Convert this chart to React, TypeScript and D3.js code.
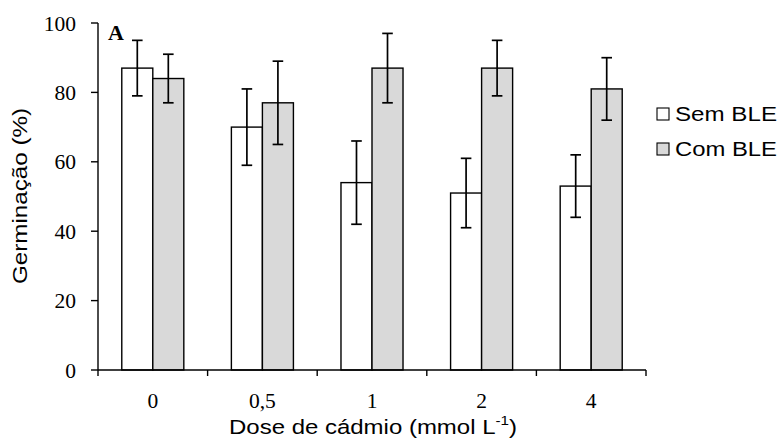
import React from "react";
import * as d3 from "d3";

const categories = ["0", "0,5", "1", "2", "4"];
const seriesNames = ["Sem BLE", "Com BLE"];
const semBLE = [87, 70, 54, 51, 53];
const semBLEErr = [8, 11, 12, 10, 9];
const comBLE = [84, 77, 87, 87, 81];
const comBLEErr = [7, 12, 10, 8, 9];
const yTicks = [0, 20, 40, 60, 80, 100];

const W = 779;
const H = 446;
const left = 98;
const right = 646;
const top = 23;
const bottom = 370;
const fills = ["#ffffff", "#d9d9d9"];

export default function App() {
  const y = d3.scaleLinear().domain([0, 100]).range([bottom, top]);
  const x = d3
    .scaleBand<string>()
    .domain(categories)
    .range([left, right])
    .paddingInner(0.434)
    .paddingOuter(0.217);
  const inner = d3
    .scaleBand<string>()
    .domain(seriesNames)
    .range([0, x.bandwidth()]);
  const series = [
    { name: seriesNames[0], values: semBLE, errs: semBLEErr, fill: fills[0] },
    { name: seriesNames[1], values: comBLE, errs: comBLEErr, fill: fills[1] },
  ];
  const step = x.step();
  const boundaries = d3.range(categories.length + 1).map((i) => left + i * step);
  const serif = "'Liberation Serif', 'Times New Roman', serif";
  const sans = "'Liberation Sans', Arial, sans-serif";

  return (
    <svg
      width={W}
      height={H}
      style={{ position: "absolute", left: 0, top: 0, background: "#fff" }}
    >
      {series.map((s) =>
        categories.map((c, i) => {
          const bx = (x(c) ?? 0) + (inner(s.name) ?? 0);
          const bw = inner.bandwidth();
          return (
            <rect
              key={s.name + c}
              x={bx}
              y={y(s.values[i])}
              width={bw}
              height={y(0) - y(s.values[i])}
              fill={s.fill}
              stroke="#000"
              strokeWidth={1.4}
            />
          );
        })
      )}
      {series.map((s) =>
        categories.map((c, i) => {
          const cx = (x(c) ?? 0) + (inner(s.name) ?? 0) + inner.bandwidth() / 2;
          const hi = y(s.values[i] + s.errs[i]);
          const lo = y(s.values[i] - s.errs[i]);
          return (
            <g key={"e" + s.name + c} stroke="#000" strokeWidth={1.7}>
              <line x1={cx} x2={cx} y1={hi} y2={lo} />
              <line x1={cx - 5.3} x2={cx + 5.3} y1={hi} y2={hi} />
              <line x1={cx - 5.3} x2={cx + 5.3} y1={lo} y2={lo} />
            </g>
          );
        })
      )}
      <line x1={left} x2={left} y1={top} y2={bottom} stroke="#000" strokeWidth={1.4} />
      {yTicks.map((t) => (
        <g key={"yt" + t}>
          <line x1={left - 7} x2={left} y1={y(t)} y2={y(t)} stroke="#000" strokeWidth={1.4} />
          <text
            x={76}
            y={y(t)}
            dy="0.35em"
            textAnchor="end"
            fontFamily={serif}
            fontSize={21.5}
            fill="#000"
          >
            {t}
          </text>
        </g>
      ))}
      <line x1={left} x2={right} y1={bottom} y2={bottom} stroke="#000" strokeWidth={1.4} />
      {boundaries.map((bx, i) => (
        <line key={"xt" + i} x1={bx} x2={bx} y1={bottom} y2={bottom + 6} stroke="#000" strokeWidth={1.4} />
      ))}
      {categories.map((c) => (
        <text
          key={"xl" + c}
          x={(x(c) ?? 0) + x.bandwidth() / 2}
          y={408}
          textAnchor="middle"
          fontFamily={serif}
          fontSize={21.5}
          fill="#000"
        >
          {c}
        </text>
      ))}
      <text x={108} y={39.5} fontFamily={serif} fontWeight="bold" fontSize={22} fill="#000">
        A
      </text>
      <text
        x={373}
        y={434}
        textAnchor="middle"
        fontFamily={sans}
        fontSize={20.5}
        fill="#000"
        textLength={288}
        lengthAdjust="spacingAndGlyphs"
      >
        Dose de cádmio (mmol L
        <tspan fontSize={13} dy={-9}>-1</tspan>
        <tspan dy={9}>)</tspan>
      </text>
      <text
        transform={`translate(27,196) rotate(-90)`}
        textAnchor="middle"
        fontFamily={sans}
        fontSize={20.5}
        fill="#000"
        textLength={176}
        lengthAdjust="spacingAndGlyphs"
      >
        Germinação (%)
      </text>
      {series.map((s, i) => (
        <g key={"lg" + s.name} transform={`translate(657, ${108 + i * 35})`}>
          <rect x={0} y={0} width={12} height={12} fill={s.fill} stroke="#000" strokeWidth={1.1} />
          <text
            x={18}
            y={13}
            fontFamily={sans}
            fontSize={20.5}
            fill="#000"
            textLength={102}
            lengthAdjust="spacingAndGlyphs"
          >
            {s.name}
          </text>
        </g>
      ))}
    </svg>
  );
}
